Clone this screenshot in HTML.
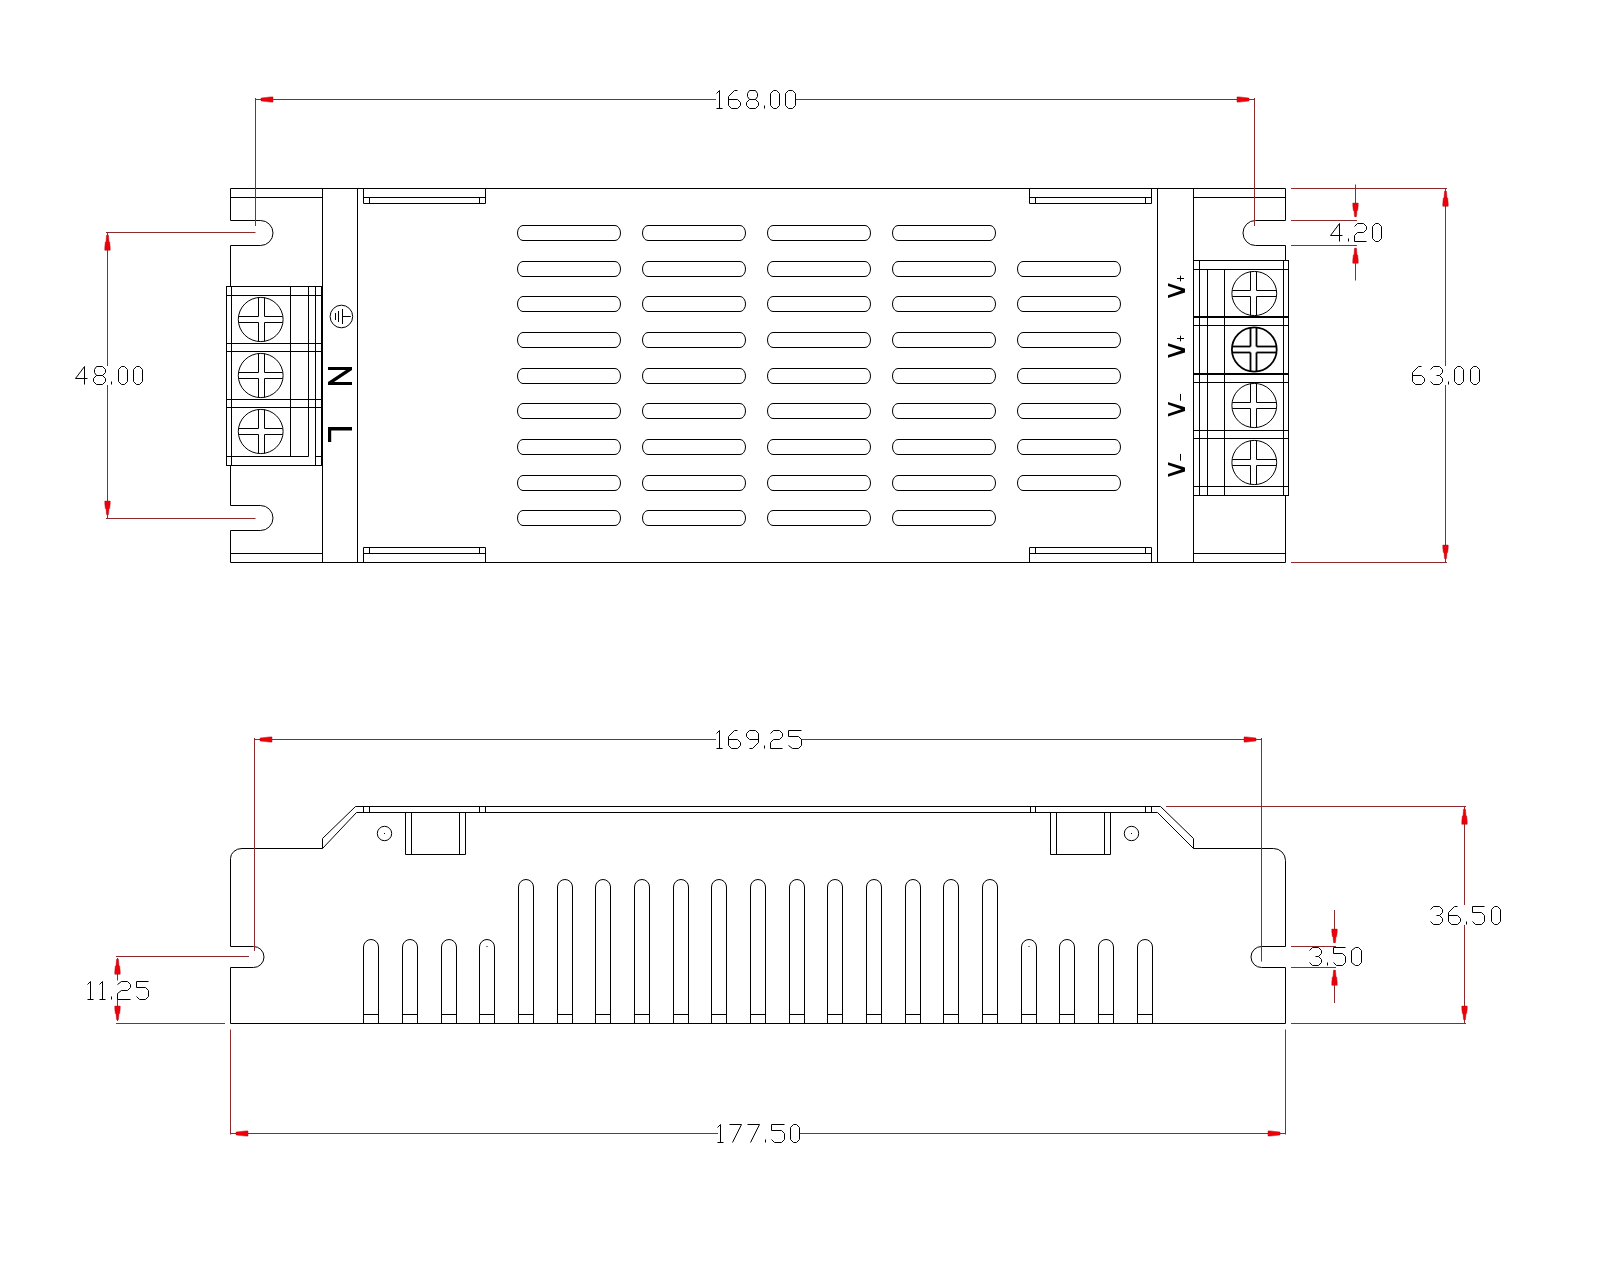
<!DOCTYPE html>
<html><head><meta charset="utf-8"><title>Drawing</title>
<style>
html,body{margin:0;padding:0;background:#fff;width:1600px;height:1280px;overflow:hidden;font-family:"Liberation Sans",sans-serif;}
svg{display:block}
svg .w{fill:#fff}
svg .f{fill:#000;stroke:none}
svg .th{stroke-width:2}
svg .a{fill:#ee0008;stroke:#b0101a;stroke-width:0.5}
svg .fb{fill:#000;stroke:none}
svg .b2{stroke-width:2.9;stroke-linejoin:bevel}
</style></head><body>
<svg width="1600" height="1280" viewBox="0 0 1600 1280">
<rect x="0" y="0" width="1600" height="1280" fill="#fff"/>
<g fill="none" stroke="#000" stroke-width="1.0">
<line x1="230.5" y1="188.5" x2="1285.5" y2="188.5"/>
<line x1="230.5" y1="562.5" x2="1285.5" y2="562.5"/>
<path d="M230.5,188.5 L230.5,220.5 L260.5,220.5 A12.5,12.5 0 0 1 260.5,245.5 L230.5,245.5 L230.5,505.5 L260.5,505.5 A12.5,12.5 0 0 1 260.5,530.5 L230.5,530.5 L230.5,562.5"/>
<line x1="230.5" y1="197.5" x2="322.5" y2="197.5"/>
<line x1="230.5" y1="553.5" x2="322.5" y2="553.5"/>
<line x1="322.5" y1="188.5" x2="322.5" y2="562.5"/>
<line x1="357.5" y1="188.5" x2="357.5" y2="562.5"/>
<path d="M1285.5,188.5 L1285.5,220.5 L1255.5,220.5 A12.5,12.5 0 0 0 1255.5,245.5 L1285.5,245.5 L1285.5,562.5"/>
<line x1="1193.5" y1="197.5" x2="1285.5" y2="197.5"/>
<line x1="1193.5" y1="553.5" x2="1285.5" y2="553.5"/>
<line x1="1193.5" y1="188.5" x2="1193.5" y2="562.5"/>
<line x1="1157.5" y1="188.5" x2="1157.5" y2="562.5"/>
<path d="M363.5,188.5 L363.5,203.5 L485.5,203.5 L485.5,188.5"/>
<line x1="363.5" y1="197.5" x2="485.5" y2="197.5"/>
<line x1="369.5" y1="197.5" x2="369.5" y2="203.5"/>
<line x1="479.5" y1="197.5" x2="479.5" y2="203.5"/>
<path d="M363.5,562.5 L363.5,547.5 L485.5,547.5 L485.5,562.5"/>
<line x1="363.5" y1="553.5" x2="485.5" y2="553.5"/>
<line x1="369.5" y1="547.5" x2="369.5" y2="553.5"/>
<line x1="479.5" y1="547.5" x2="479.5" y2="553.5"/>
<path d="M1029.5,188.5 L1029.5,203.5 L1151.5,203.5 L1151.5,188.5"/>
<line x1="1029.5" y1="197.5" x2="1151.5" y2="197.5"/>
<line x1="1035.5" y1="197.5" x2="1035.5" y2="203.5"/>
<line x1="1145.5" y1="197.5" x2="1145.5" y2="203.5"/>
<path d="M1029.5,562.5 L1029.5,547.5 L1151.5,547.5 L1151.5,562.5"/>
<line x1="1029.5" y1="553.5" x2="1151.5" y2="553.5"/>
<line x1="1035.5" y1="547.5" x2="1035.5" y2="553.5"/>
<line x1="1145.5" y1="547.5" x2="1145.5" y2="553.5"/>
<rect x="517.5" y="225.5" width="103" height="15" rx="5.5" ry="7.5"/>
<rect x="517.5" y="261.5" width="103" height="15" rx="5.5" ry="7.5"/>
<rect x="517.5" y="296.5" width="103" height="15" rx="5.5" ry="7.5"/>
<rect x="517.5" y="332.5" width="103" height="15" rx="5.5" ry="7.5"/>
<rect x="517.5" y="368.5" width="103" height="15" rx="5.5" ry="7.5"/>
<rect x="517.5" y="403.5" width="103" height="15" rx="5.5" ry="7.5"/>
<rect x="517.5" y="439.5" width="103" height="15" rx="5.5" ry="7.5"/>
<rect x="517.5" y="475.5" width="103" height="15" rx="5.5" ry="7.5"/>
<rect x="517.5" y="510.5" width="103" height="15" rx="5.5" ry="7.5"/>
<rect x="642.5" y="225.5" width="103" height="15" rx="5.5" ry="7.5"/>
<rect x="642.5" y="261.5" width="103" height="15" rx="5.5" ry="7.5"/>
<rect x="642.5" y="296.5" width="103" height="15" rx="5.5" ry="7.5"/>
<rect x="642.5" y="332.5" width="103" height="15" rx="5.5" ry="7.5"/>
<rect x="642.5" y="368.5" width="103" height="15" rx="5.5" ry="7.5"/>
<rect x="642.5" y="403.5" width="103" height="15" rx="5.5" ry="7.5"/>
<rect x="642.5" y="439.5" width="103" height="15" rx="5.5" ry="7.5"/>
<rect x="642.5" y="475.5" width="103" height="15" rx="5.5" ry="7.5"/>
<rect x="642.5" y="510.5" width="103" height="15" rx="5.5" ry="7.5"/>
<rect x="767.5" y="225.5" width="103" height="15" rx="5.5" ry="7.5"/>
<rect x="767.5" y="261.5" width="103" height="15" rx="5.5" ry="7.5"/>
<rect x="767.5" y="296.5" width="103" height="15" rx="5.5" ry="7.5"/>
<rect x="767.5" y="332.5" width="103" height="15" rx="5.5" ry="7.5"/>
<rect x="767.5" y="368.5" width="103" height="15" rx="5.5" ry="7.5"/>
<rect x="767.5" y="403.5" width="103" height="15" rx="5.5" ry="7.5"/>
<rect x="767.5" y="439.5" width="103" height="15" rx="5.5" ry="7.5"/>
<rect x="767.5" y="475.5" width="103" height="15" rx="5.5" ry="7.5"/>
<rect x="767.5" y="510.5" width="103" height="15" rx="5.5" ry="7.5"/>
<rect x="892.5" y="225.5" width="103" height="15" rx="5.5" ry="7.5"/>
<rect x="892.5" y="261.5" width="103" height="15" rx="5.5" ry="7.5"/>
<rect x="892.5" y="296.5" width="103" height="15" rx="5.5" ry="7.5"/>
<rect x="892.5" y="332.5" width="103" height="15" rx="5.5" ry="7.5"/>
<rect x="892.5" y="368.5" width="103" height="15" rx="5.5" ry="7.5"/>
<rect x="892.5" y="403.5" width="103" height="15" rx="5.5" ry="7.5"/>
<rect x="892.5" y="439.5" width="103" height="15" rx="5.5" ry="7.5"/>
<rect x="892.5" y="475.5" width="103" height="15" rx="5.5" ry="7.5"/>
<rect x="892.5" y="510.5" width="103" height="15" rx="5.5" ry="7.5"/>
<rect x="1017.5" y="261.5" width="103" height="15" rx="5.5" ry="7.5"/>
<rect x="1017.5" y="296.5" width="103" height="15" rx="5.5" ry="7.5"/>
<rect x="1017.5" y="332.5" width="103" height="15" rx="5.5" ry="7.5"/>
<rect x="1017.5" y="368.5" width="103" height="15" rx="5.5" ry="7.5"/>
<rect x="1017.5" y="403.5" width="103" height="15" rx="5.5" ry="7.5"/>
<rect x="1017.5" y="439.5" width="103" height="15" rx="5.5" ry="7.5"/>
<rect x="1017.5" y="475.5" width="103" height="15" rx="5.5" ry="7.5"/>
<rect class="w" x="226.5" y="286.5" width="95" height="179"/>
<line x1="226.5" y1="295.5" x2="321.5" y2="295.5"/>
<line x1="226.5" y1="343.5" x2="321.5" y2="343.5"/>
<line x1="226.5" y1="351.5" x2="321.5" y2="351.5"/>
<line x1="226.5" y1="399.5" x2="321.5" y2="399.5"/>
<line x1="226.5" y1="407.5" x2="321.5" y2="407.5"/>
<line x1="226.5" y1="456.5" x2="308.5" y2="456.5"/>
<line x1="315.5" y1="456.5" x2="321.5" y2="456.5"/>
<line x1="231.5" y1="286.5" x2="231.5" y2="465.5"/>
<line x1="290.5" y1="286.5" x2="290.5" y2="456.5"/>
<line x1="308.5" y1="286.5" x2="308.5" y2="456.5"/>
<line x1="315.5" y1="286.5" x2="315.5" y2="465.5"/>
<ellipse cx="260.7" cy="319.5" rx="22.4" ry="22.1"/>
<line x1="258.5" y1="297.6" x2="258.5" y2="316.5"/>
<line x1="264.5" y1="297.6" x2="264.5" y2="316.5"/>
<line x1="258.5" y1="322.5" x2="258.5" y2="341.4"/>
<line x1="264.5" y1="322.5" x2="264.5" y2="341.4"/>
<line x1="238.8" y1="316.5" x2="258.5" y2="316.5"/>
<line x1="238.8" y1="322.5" x2="258.5" y2="322.5"/>
<line x1="264.5" y1="316.5" x2="282.6" y2="316.5"/>
<line x1="264.5" y1="322.5" x2="282.6" y2="322.5"/>
<ellipse cx="260.7" cy="375.5" rx="22.4" ry="22.1"/>
<line x1="258.5" y1="353.6" x2="258.5" y2="372.5"/>
<line x1="264.5" y1="353.6" x2="264.5" y2="372.5"/>
<line x1="258.5" y1="378.5" x2="258.5" y2="397.4"/>
<line x1="264.5" y1="378.5" x2="264.5" y2="397.4"/>
<line x1="238.8" y1="372.5" x2="258.5" y2="372.5"/>
<line x1="238.8" y1="378.5" x2="258.5" y2="378.5"/>
<line x1="264.5" y1="372.5" x2="282.6" y2="372.5"/>
<line x1="264.5" y1="378.5" x2="282.6" y2="378.5"/>
<ellipse cx="260.7" cy="431.5" rx="22.4" ry="22.1"/>
<line x1="258.5" y1="409.6" x2="258.5" y2="428.5"/>
<line x1="264.5" y1="409.6" x2="264.5" y2="428.5"/>
<line x1="258.5" y1="434.5" x2="258.5" y2="453.4"/>
<line x1="264.5" y1="434.5" x2="264.5" y2="453.4"/>
<line x1="238.8" y1="428.5" x2="258.5" y2="428.5"/>
<line x1="238.8" y1="434.5" x2="258.5" y2="434.5"/>
<line x1="264.5" y1="428.5" x2="282.6" y2="428.5"/>
<line x1="264.5" y1="434.5" x2="282.6" y2="434.5"/>
<rect class="w" x="1193.5" y="260.5" width="95" height="235"/>
<line x1="1193.5" y1="269.5" x2="1288.5" y2="269.5"/>
<line class="th" x1="1193.5" y1="317" x2="1288.5" y2="317"/>
<line x1="1193.5" y1="325.5" x2="1288.5" y2="325.5"/>
<line class="th" x1="1193.5" y1="374" x2="1288.5" y2="374"/>
<line x1="1193.5" y1="382.5" x2="1288.5" y2="382.5"/>
<line x1="1193.5" y1="430.5" x2="1288.5" y2="430.5"/>
<line x1="1193.5" y1="438.5" x2="1288.5" y2="438.5"/>
<line x1="1193.5" y1="486.5" x2="1288.5" y2="486.5"/>
<line x1="1199.5" y1="260.5" x2="1199.5" y2="495.5"/>
<line x1="1283.5" y1="260.5" x2="1283.5" y2="495.5"/>
<line x1="1207.5" y1="269.5" x2="1207.5" y2="495.5"/>
<line x1="1224.5" y1="269.5" x2="1224.5" y2="495.5"/>
<ellipse cx="1254.3" cy="293.5" rx="22.4" ry="22.1"/>
<line x1="1250.5" y1="271.6" x2="1250.5" y2="290.5"/>
<line x1="1256.5" y1="271.6" x2="1256.5" y2="290.5"/>
<line x1="1250.5" y1="296.5" x2="1250.5" y2="315.4"/>
<line x1="1256.5" y1="296.5" x2="1256.5" y2="315.4"/>
<line x1="1232.4" y1="290.5" x2="1250.5" y2="290.5"/>
<line x1="1232.4" y1="296.5" x2="1250.5" y2="296.5"/>
<line x1="1256.5" y1="290.5" x2="1276.2" y2="290.5"/>
<line x1="1256.5" y1="296.5" x2="1276.2" y2="296.5"/>
<g stroke-width="1.8"><ellipse cx="1254.3" cy="349.5" rx="22.4" ry="22.1"/><line x1="1250.5" y1="327.6" x2="1250.5" y2="346.5"/><line x1="1256.5" y1="327.6" x2="1256.5" y2="346.5"/><line x1="1250.5" y1="352.5" x2="1250.5" y2="371.4"/><line x1="1256.5" y1="352.5" x2="1256.5" y2="371.4"/><line x1="1232.4" y1="346.5" x2="1250.5" y2="346.5"/><line x1="1232.4" y1="352.5" x2="1250.5" y2="352.5"/><line x1="1256.5" y1="346.5" x2="1276.2" y2="346.5"/><line x1="1256.5" y1="352.5" x2="1276.2" y2="352.5"/></g>
<ellipse cx="1254.3" cy="405.5" rx="22.4" ry="22.1"/>
<line x1="1250.5" y1="383.6" x2="1250.5" y2="402.5"/>
<line x1="1256.5" y1="383.6" x2="1256.5" y2="402.5"/>
<line x1="1250.5" y1="408.5" x2="1250.5" y2="427.4"/>
<line x1="1256.5" y1="408.5" x2="1256.5" y2="427.4"/>
<line x1="1232.4" y1="402.5" x2="1250.5" y2="402.5"/>
<line x1="1232.4" y1="408.5" x2="1250.5" y2="408.5"/>
<line x1="1256.5" y1="402.5" x2="1276.2" y2="402.5"/>
<line x1="1256.5" y1="408.5" x2="1276.2" y2="408.5"/>
<ellipse cx="1254.3" cy="462.5" rx="22.4" ry="22.1"/>
<line x1="1250.5" y1="440.6" x2="1250.5" y2="459.5"/>
<line x1="1256.5" y1="440.6" x2="1256.5" y2="459.5"/>
<line x1="1250.5" y1="465.5" x2="1250.5" y2="484.4"/>
<line x1="1256.5" y1="465.5" x2="1256.5" y2="484.4"/>
<line x1="1232.4" y1="459.5" x2="1250.5" y2="459.5"/>
<line x1="1232.4" y1="465.5" x2="1250.5" y2="465.5"/>
<line x1="1256.5" y1="459.5" x2="1276.2" y2="459.5"/>
<line x1="1256.5" y1="465.5" x2="1276.2" y2="465.5"/>
<circle cx="341.4" cy="316.5" r="11.3"/>
<line x1="342.5" y1="316.5" x2="350.8" y2="316.5"/>
<line x1="342.5" y1="309" x2="342.5" y2="324"/>
<line x1="338.5" y1="311" x2="338.5" y2="322"/>
<line x1="335.5" y1="313" x2="335.5" y2="320"/>
<path d="M1180.5,275.7 L1180.5,281.3 M1177,278.5 L1184,278.5"/>
<path d="M1180.5,335.7 L1180.5,341.3 M1177,338.5 L1184,338.5"/>
<path d="M1180.5,393.9 L1180.5,400.7"/>
<path d="M1180.5,453.9 L1180.5,460.7"/>
<line x1="230.5" y1="1023.5" x2="1285.5" y2="1023.5"/>
<path d="M230.5,1023.5 L230.5,967.5 L253.5,967.5 A10.5,10.5 0 0 0 253.5,946.5 L230.5,946.5 L230.5,858.5 A11.5,10 0 0 1 242,848.5 L322.5,848.5 L356.5,812.5"/>
<path d="M322.5,848.5 L322.5,838.5 L355.5,806.5 L1160.5,806.5 L1193.5,838.5 L1193.5,848.5"/>
<line x1="356.5" y1="812.5" x2="1157.5" y2="812.5"/>
<path d="M1157.5,812.5 L1193.5,848.5 L1273.5,848.5 A12,12 0 0 1 1285.5,860.5 L1285.5,946.5 L1261.5,946.5 A10.5,10.5 0 0 0 1261.5,967.5 L1285.5,967.5 L1285.5,1023.5"/>
<line x1="363.5" y1="806.5" x2="363.5" y2="812.5"/>
<line x1="369.5" y1="806.5" x2="369.5" y2="812.5"/>
<line x1="479.5" y1="806.5" x2="479.5" y2="812.5"/>
<line x1="485.5" y1="806.5" x2="485.5" y2="812.5"/>
<line x1="1030.5" y1="806.5" x2="1030.5" y2="812.5"/>
<line x1="1035.5" y1="806.5" x2="1035.5" y2="812.5"/>
<line x1="1145.5" y1="806.5" x2="1145.5" y2="812.5"/>
<line x1="1151.5" y1="806.5" x2="1151.5" y2="812.5"/>
<path d="M405.5,812.5 L405.5,854.5 L465.5,854.5 L465.5,812.5"/>
<line x1="411.5" y1="812.5" x2="411.5" y2="854.5"/>
<line x1="459.5" y1="812.5" x2="459.5" y2="854.5"/>
<path d="M1050.5,812.5 L1050.5,854.5 L1110.5,854.5 L1110.5,812.5"/>
<line x1="1056.5" y1="812.5" x2="1056.5" y2="854.5"/>
<line x1="1104.5" y1="812.5" x2="1104.5" y2="854.5"/>
<circle cx="384.5" cy="833.5" r="7.2"/>
<rect class="f" x="384" y="833" width="1" height="1"/>
<circle cx="1131.5" cy="833.5" r="7.2"/>
<rect class="f" x="1131" y="833" width="1" height="1"/>
<path d="M363.5,1023.5 L363.5,947 A7.5,7.5 0 0 1 378.5,947 L378.5,1023.5"/>
<line x1="363.5" y1="1014.5" x2="378.5" y2="1014.5"/>
<path d="M402.5,1023.5 L402.5,947 A7.5,7.5 0 0 1 417.5,947 L417.5,1023.5"/>
<line x1="402.5" y1="1014.5" x2="417.5" y2="1014.5"/>
<path d="M441.5,1023.5 L441.5,947 A7.5,7.5 0 0 1 456.5,947 L456.5,1023.5"/>
<line x1="441.5" y1="1014.5" x2="456.5" y2="1014.5"/>
<path d="M479.5,1023.5 L479.5,947 A7.5,7.5 0 0 1 494.5,947 L494.5,1023.5"/>
<line x1="479.5" y1="1014.5" x2="494.5" y2="1014.5"/>
<rect class="f" x="486.5" y="946" width="1" height="1"/>
<path d="M518.5,1023.5 L518.5,887 A7.5,7.5 0 0 1 533.5,887 L533.5,1023.5"/>
<line x1="518.5" y1="1014.5" x2="533.5" y2="1014.5"/>
<path d="M557.5,1023.5 L557.5,887 A7.5,7.5 0 0 1 572.5,887 L572.5,1023.5"/>
<line x1="557.5" y1="1014.5" x2="572.5" y2="1014.5"/>
<path d="M595.5,1023.5 L595.5,887 A7.5,7.5 0 0 1 610.5,887 L610.5,1023.5"/>
<line x1="595.5" y1="1014.5" x2="610.5" y2="1014.5"/>
<path d="M634.5,1023.5 L634.5,887 A7.5,7.5 0 0 1 649.5,887 L649.5,1023.5"/>
<line x1="634.5" y1="1014.5" x2="649.5" y2="1014.5"/>
<path d="M673.5,1023.5 L673.5,887 A7.5,7.5 0 0 1 688.5,887 L688.5,1023.5"/>
<line x1="673.5" y1="1014.5" x2="688.5" y2="1014.5"/>
<path d="M711.5,1023.5 L711.5,887 A7.5,7.5 0 0 1 726.5,887 L726.5,1023.5"/>
<line x1="711.5" y1="1014.5" x2="726.5" y2="1014.5"/>
<path d="M750.5,1023.5 L750.5,887 A7.5,7.5 0 0 1 765.5,887 L765.5,1023.5"/>
<line x1="750.5" y1="1014.5" x2="765.5" y2="1014.5"/>
<path d="M789.5,1023.5 L789.5,887 A7.5,7.5 0 0 1 804.5,887 L804.5,1023.5"/>
<line x1="789.5" y1="1014.5" x2="804.5" y2="1014.5"/>
<path d="M827.5,1023.5 L827.5,887 A7.5,7.5 0 0 1 842.5,887 L842.5,1023.5"/>
<line x1="827.5" y1="1014.5" x2="842.5" y2="1014.5"/>
<path d="M866.5,1023.5 L866.5,887 A7.5,7.5 0 0 1 881.5,887 L881.5,1023.5"/>
<line x1="866.5" y1="1014.5" x2="881.5" y2="1014.5"/>
<path d="M905.5,1023.5 L905.5,887 A7.5,7.5 0 0 1 920.5,887 L920.5,1023.5"/>
<line x1="905.5" y1="1014.5" x2="920.5" y2="1014.5"/>
<path d="M943.5,1023.5 L943.5,887 A7.5,7.5 0 0 1 958.5,887 L958.5,1023.5"/>
<line x1="943.5" y1="1014.5" x2="958.5" y2="1014.5"/>
<path d="M982.5,1023.5 L982.5,887 A7.5,7.5 0 0 1 997.5,887 L997.5,1023.5"/>
<line x1="982.5" y1="1014.5" x2="997.5" y2="1014.5"/>
<path d="M1021.5,1023.5 L1021.5,947 A7.5,7.5 0 0 1 1036.5,947 L1036.5,1023.5"/>
<line x1="1021.5" y1="1014.5" x2="1036.5" y2="1014.5"/>
<rect class="f" x="1028.5" y="946" width="1" height="1"/>
<path d="M1059.5,1023.5 L1059.5,947 A7.5,7.5 0 0 1 1074.5,947 L1074.5,1023.5"/>
<line x1="1059.5" y1="1014.5" x2="1074.5" y2="1014.5"/>
<path d="M1098.5,1023.5 L1098.5,947 A7.5,7.5 0 0 1 1113.5,947 L1113.5,1023.5"/>
<line x1="1098.5" y1="1014.5" x2="1113.5" y2="1014.5"/>
<path d="M1137.5,1023.5 L1137.5,947 A7.5,7.5 0 0 1 1152.5,947 L1152.5,1023.5"/>
<line x1="1137.5" y1="1014.5" x2="1152.5" y2="1014.5"/>
</g>
<g fill="none" stroke="#000" stroke-width="3.4" stroke-linecap="butt" stroke-linejoin="miter">
<path class="fb" d="M328,367 H352 V369.9 H328 Z M328,382 H352 V384.9 H328 Z M352,369.9 L346,369.9 L328,382 L334,382 Z"/>
<path class="fb" d="M328,427 H352 V430.6 H328 Z M328,430.6 H331.2 V442 H328 Z"/>
<path class="fb" d="M1168,283.3 L1185,288.7 L1185,292.5 L1168,297.9 L1168,295.2 L1181.3,290.6 L1168,286 Z"/>
<path class="fb" d="M1168,343.2 L1185,348.6 L1185,352.4 L1168,357.8 L1168,355.1 L1181.3,350.5 L1168,345.9 Z"/>
<path class="fb" d="M1168,401.9 L1185,407.3 L1185,411.1 L1168,416.5 L1168,413.8 L1181.3,409.2 L1168,404.6 Z"/>
<path class="fb" d="M1168,462.2 L1185,467.6 L1185,471.4 L1168,476.8 L1168,474.1 L1181.3,469.5 L1168,464.9 Z"/>
</g>
<g fill="none" stroke="#8e2a2e" stroke-width="1.0">
<line x1="255.5" y1="99.5" x2="716" y2="99.5"/>
<line x1="795" y1="99.5" x2="1254.5" y2="99.5"/>
<line x1="255.5" y1="98" x2="255.5" y2="226"/>
<line x1="1254.5" y1="98" x2="1254.5" y2="226"/>
<polygon class="a" points="261,98.1 266.4,97.4 266.4,97.42 270.6,96.9 273,96.9 273,102.1 270.6,102.1 266.4,101.58 266.4,101.6 261,100.9"/>
<polygon class="a" points="1249,98.1 1243.6,97.4 1243.6,97.42 1239.4,96.9 1237,96.9 1237,102.1 1239.4,102.1 1243.6,101.58 1243.6,101.6 1249,100.9"/>
<line x1="106" y1="232.5" x2="255.5" y2="232.5"/>
<line x1="106" y1="518.5" x2="255.5" y2="518.5"/>
<line x1="107.5" y1="232.5" x2="107.5" y2="366"/>
<line x1="107.5" y1="385" x2="107.5" y2="518.5"/>
<polygon class="a" points="106.5,235.25 106,242 105.34,242 104.8,247.25 104.8,250.25 110.2,250.25 110.2,247.25 109.66,242 109,242 108.5,235.25"/>
<polygon class="a" points="106.5,514.6 106,508.53 105.34,508.53 104.8,503.8 104.8,501.1 110.2,501.1 110.2,503.8 109.66,508.53 109,508.53 108.5,514.6"/>
<line x1="1291" y1="188.5" x2="1447" y2="188.5"/>
<line x1="1291" y1="220.5" x2="1357" y2="220.5"/>
<line x1="1291" y1="245.5" x2="1357" y2="245.5"/>
<line x1="1355.5" y1="184.5" x2="1355.5" y2="217"/>
<line x1="1355.5" y1="248.5" x2="1355.5" y2="280.5"/>
<polygon class="a" points="1354.5,216.6 1354,210.53 1353.34,210.53 1352.8,205.8 1352.8,203.1 1358.2,203.1 1358.2,205.8 1357.66,210.53 1357,210.53 1356.5,216.6"/>
<polygon class="a" points="1354.5,248.25 1354,255 1353.34,255 1352.8,260.25 1352.8,263.25 1358.2,263.25 1358.2,260.25 1357.66,255 1357,255 1356.5,248.25"/>
<line x1="1291" y1="562.5" x2="1447" y2="562.5"/>
<line x1="1445.5" y1="188.5" x2="1445.5" y2="366"/>
<line x1="1445.5" y1="385" x2="1445.5" y2="562.5"/>
<polygon class="a" points="1444.5,191.25 1444,198 1443.34,198 1442.8,203.25 1442.8,206.25 1448.2,206.25 1448.2,203.25 1447.66,198 1447,198 1446.5,191.25"/>
<polygon class="a" points="1444.5,558.6 1444,552.52 1443.34,552.52 1442.8,547.8 1442.8,545.1 1448.2,545.1 1448.2,547.8 1447.66,552.52 1447,552.52 1446.5,558.6"/>
<line x1="254.5" y1="739.5" x2="716" y2="739.5"/>
<line x1="801" y1="739.5" x2="1261.5" y2="739.5"/>
<line x1="254.5" y1="738" x2="254.5" y2="951"/>
<line x1="1261.5" y1="738" x2="1261.5" y2="961.5"/>
<polygon class="a" points="260,738.1 265.4,737.4 265.4,737.42 269.6,736.9 272,736.9 272,742.1 269.6,742.1 265.4,741.58 265.4,741.6 260,740.9"/>
<polygon class="a" points="1256,738.1 1250.6,737.4 1250.6,737.42 1246.4,736.9 1244,736.9 1244,742.1 1246.4,742.1 1250.6,741.58 1250.6,741.6 1256,740.9"/>
<line x1="116" y1="956.5" x2="249" y2="956.5"/>
<line x1="116" y1="1023.5" x2="225" y2="1023.5"/>
<line x1="117.5" y1="958" x2="117.5" y2="980.5"/>
<line x1="117.5" y1="999.5" x2="117.5" y2="1021"/>
<polygon class="a" points="116.5,959.25 116,966 115.34,966 114.8,971.25 114.8,974.25 120.2,974.25 120.2,971.25 119.66,966 119,966 118.5,959.25"/>
<polygon class="a" points="116.5,1019.6 116,1013.52 115.34,1013.52 114.8,1008.8 114.8,1006.1 120.2,1006.1 120.2,1008.8 119.66,1013.52 119,1013.52 118.5,1019.6"/>
<line x1="1291" y1="946.5" x2="1336" y2="946.5"/>
<line x1="1291" y1="967.5" x2="1336" y2="967.5"/>
<line x1="1334.5" y1="910" x2="1334.5" y2="943"/>
<line x1="1334.5" y1="970" x2="1334.5" y2="1003"/>
<polygon class="a" points="1333.5,942.6 1333,936.52 1332.34,936.52 1331.8,931.8 1331.8,929.1 1337.2,929.1 1337.2,931.8 1336.66,936.52 1336,936.52 1335.5,942.6"/>
<polygon class="a" points="1333.5,970.25 1333,977 1332.34,977 1331.8,982.25 1331.8,985.25 1337.2,985.25 1337.2,982.25 1336.66,977 1336,977 1335.5,970.25"/>
<line x1="1166" y1="806.5" x2="1466" y2="806.5"/>
<line x1="1291" y1="1023.5" x2="1466" y2="1023.5"/>
<line x1="1464.5" y1="806.5" x2="1464.5" y2="905"/>
<line x1="1464.5" y1="925" x2="1464.5" y2="1023.5"/>
<polygon class="a" points="1463.5,809.25 1463,816 1462.34,816 1461.8,821.25 1461.8,824.25 1467.2,824.25 1467.2,821.25 1466.66,816 1466,816 1465.5,809.25"/>
<polygon class="a" points="1463.5,1019.6 1463,1013.52 1462.34,1013.52 1461.8,1008.8 1461.8,1006.1 1467.2,1006.1 1467.2,1008.8 1466.66,1013.52 1466,1013.52 1465.5,1019.6"/>
<line x1="230.5" y1="1029.5" x2="230.5" y2="1134.5"/>
<line x1="1285.5" y1="1029.5" x2="1285.5" y2="1134.5"/>
<line x1="230.5" y1="1133.5" x2="718" y2="1133.5"/>
<line x1="799" y1="1133.5" x2="1285.5" y2="1133.5"/>
<polygon class="a" points="236,1132.1 241.4,1131.4 241.4,1131.42 245.6,1130.9 248,1130.9 248,1136.1 245.6,1136.1 241.4,1135.58 241.4,1135.6 236,1134.9"/>
<polygon class="a" points="1280,1132.1 1274.6,1131.4 1274.6,1131.42 1270.4,1130.9 1268,1130.9 1268,1136.1 1270.4,1136.1 1274.6,1135.58 1274.6,1135.6 1280,1134.9"/>
</g>
<g fill="none" stroke="#000" stroke-width="1.0" stroke-linejoin="miter">
<path class="t" d="M716.5,93.5 L719.5,90.5 L719.5,108.5 M716.5,108.5 L722.5,108.5 M737.5,90.5 L734.5,90.5 L728.5,96.5 L728.5,105.5 L731.5,108.5 L737.5,108.5 L740.5,105.5 L740.5,102.5 L737.5,99.5 L728.5,99.5 M749.5,90.5 L755.5,90.5 L757.5,93.5 L757.5,96.5 L755.5,99.5 L749.5,99.5 L747.5,96.5 L747.5,93.5 Z M749.5,99.5 L755.5,99.5 L758.5,102.5 L758.5,105.5 L755.5,108.5 L749.5,108.5 L746.5,105.5 L746.5,102.5 Z M764.5,105.5 L764.5,108.5 M773.5,90.5 L776.5,90.5 L779.5,93.5 L779.5,105.5 L776.5,108.5 L773.5,108.5 L770.5,105.5 L770.5,93.5 Z M788.5,90.5 L792.5,90.5 L795.5,93.5 L795.5,105.5 L792.5,108.5 L788.5,108.5 L785.5,105.5 L785.5,93.5 Z"/>
<path class="t" d="M84.5,384.5 L84.5,366.5 L75.5,378.5 L87.5,378.5 M96.5,366.5 L102.5,366.5 L105.5,369.5 L105.5,372.5 L102.5,375.5 L96.5,375.5 L94.5,372.5 L94.5,369.5 Z M96.5,375.5 L102.5,375.5 L105.5,378.5 L105.5,381.5 L102.5,384.5 L96.5,384.5 L93.5,381.5 L93.5,378.5 Z M111.5,381.5 L111.5,384.5 M121.5,366.5 L124.5,366.5 L127.5,369.5 L127.5,381.5 L124.5,384.5 L121.5,384.5 L118.5,381.5 L118.5,369.5 Z M136.5,366.5 L139.5,366.5 L142.5,369.5 L142.5,381.5 L139.5,384.5 L136.5,384.5 L133.5,381.5 L133.5,369.5 Z"/>
<path class="t" d="M1339.5,241.5 L1339.5,223.5 L1330.5,235.5 L1342.5,235.5 M1348.5,238.5 L1348.5,241.5 M1354.5,226.5 L1357.5,223.5 L1363.5,223.5 L1366.5,226.5 L1366.5,229.5 L1363.5,232.5 L1357.5,232.5 L1354.5,235.5 L1354.5,241.5 L1366.5,241.5 M1375.5,223.5 L1378.5,223.5 L1381.5,226.5 L1381.5,238.5 L1378.5,241.5 L1375.5,241.5 L1372.5,238.5 L1372.5,226.5 Z"/>
<path class="t" d="M1421.5,366.5 L1418.5,366.5 L1412.5,372.5 L1412.5,381.5 L1415.5,384.5 L1421.5,384.5 L1424.5,381.5 L1424.5,378.5 L1421.5,375.5 L1412.5,375.5 M1430.5,369.5 L1433.5,366.5 L1439.5,366.5 L1442.5,369.5 L1442.5,372.5 L1439.5,375.5 L1442.5,378.5 L1442.5,381.5 L1439.5,384.5 L1433.5,384.5 L1430.5,381.5 M1436.5,375.5 L1439.5,375.5 M1448.5,381.5 L1448.5,384.5 M1457.5,366.5 L1460.5,366.5 L1463.5,369.5 L1463.5,381.5 L1460.5,384.5 L1457.5,384.5 L1454.5,381.5 L1454.5,369.5 Z M1473.5,366.5 L1476.5,366.5 L1479.5,369.5 L1479.5,381.5 L1476.5,384.5 L1473.5,384.5 L1470.5,381.5 L1470.5,369.5 Z"/>
<path class="t" d="M716.5,733.5 L719.5,730.5 L719.5,748.5 M716.5,748.5 L722.5,748.5 M737.5,730.5 L734.5,730.5 L728.5,736.5 L728.5,745.5 L731.5,748.5 L737.5,748.5 L740.5,745.5 L740.5,742.5 L737.5,739.5 L728.5,739.5 M749.5,748.5 L752.5,748.5 L758.5,742.5 L758.5,733.5 L755.5,730.5 L749.5,730.5 L746.5,733.5 L746.5,736.5 L749.5,739.5 L758.5,739.5 M764.5,745.5 L764.5,748.5 M770.5,733.5 L773.5,730.5 L779.5,730.5 L782.5,733.5 L782.5,736.5 L779.5,739.5 L773.5,739.5 L770.5,742.5 L770.5,748.5 L782.5,748.5 M801.5,730.5 L788.5,730.5 L788.5,736.5 L798.5,736.5 L801.5,739.5 L801.5,745.5 L798.5,748.5 L792.5,748.5 L788.5,745.5"/>
<path class="t" d="M87.5,984.5 L90.5,981.5 L90.5,999.5 M87.5,999.5 L93.5,999.5 M99.5,984.5 L102.5,981.5 L102.5,999.5 M99.5,999.5 L105.5,999.5 M111.5,996.5 L111.5,999.5 M117.5,984.5 L121.5,981.5 L127.5,981.5 L130.5,984.5 L130.5,987.5 L127.5,990.5 L121.5,990.5 L117.5,993.5 L117.5,999.5 L130.5,999.5 M148.5,981.5 L136.5,981.5 L136.5,987.5 L145.5,987.5 L148.5,990.5 L148.5,996.5 L145.5,999.5 L139.5,999.5 L136.5,996.5"/>
<path class="t" d="M1309.5,950.5 L1312.5,947.5 L1318.5,947.5 L1321.5,950.5 L1321.5,953.5 L1318.5,956.5 L1321.5,959.5 L1321.5,962.5 L1318.5,965.5 L1312.5,965.5 L1309.5,962.5 M1315.5,956.5 L1318.5,956.5 M1327.5,962.5 L1327.5,965.5 M1345.5,947.5 L1333.5,947.5 L1333.5,953.5 L1342.5,953.5 L1345.5,956.5 L1345.5,962.5 L1342.5,965.5 L1336.5,965.5 L1333.5,962.5 M1355.5,947.5 L1358.5,947.5 L1361.5,950.5 L1361.5,962.5 L1358.5,965.5 L1355.5,965.5 L1351.5,962.5 L1351.5,950.5 Z"/>
<path class="t" d="M1430.5,909.5 L1433.5,906.5 L1439.5,906.5 L1442.5,909.5 L1442.5,912.5 L1439.5,915.5 L1442.5,918.5 L1442.5,921.5 L1439.5,924.5 L1433.5,924.5 L1430.5,921.5 M1436.5,915.5 L1439.5,915.5 M1457.5,906.5 L1454.5,906.5 L1448.5,912.5 L1448.5,921.5 L1451.5,924.5 L1457.5,924.5 L1460.5,921.5 L1460.5,918.5 L1457.5,915.5 L1448.5,915.5 M1466.5,921.5 L1466.5,924.5 M1484.5,906.5 L1472.5,906.5 L1472.5,912.5 L1481.5,912.5 L1484.5,915.5 L1484.5,921.5 L1481.5,924.5 L1475.5,924.5 L1472.5,921.5 M1494.5,906.5 L1497.5,906.5 L1500.5,909.5 L1500.5,921.5 L1497.5,924.5 L1494.5,924.5 L1491.5,921.5 L1491.5,909.5 Z"/>
<path class="t" d="M717.5,1127.5 L720.5,1124.5 L720.5,1142.5 M717.5,1142.5 L723.5,1142.5 M729.5,1124.5 L741.5,1124.5 L732.5,1142.5 M747.5,1124.5 L759.5,1124.5 L750.5,1142.5 M765.5,1139.5 L765.5,1142.5 M784.5,1124.5 L771.5,1124.5 L771.5,1130.5 L781.5,1130.5 L784.5,1133.5 L784.5,1139.5 L781.5,1142.5 L774.5,1142.5 L771.5,1139.5 M793.5,1124.5 L796.5,1124.5 L799.5,1127.5 L799.5,1139.5 L796.5,1142.5 L793.5,1142.5 L790.5,1139.5 L790.5,1127.5 Z"/>
</g>
</svg>
</body></html>
